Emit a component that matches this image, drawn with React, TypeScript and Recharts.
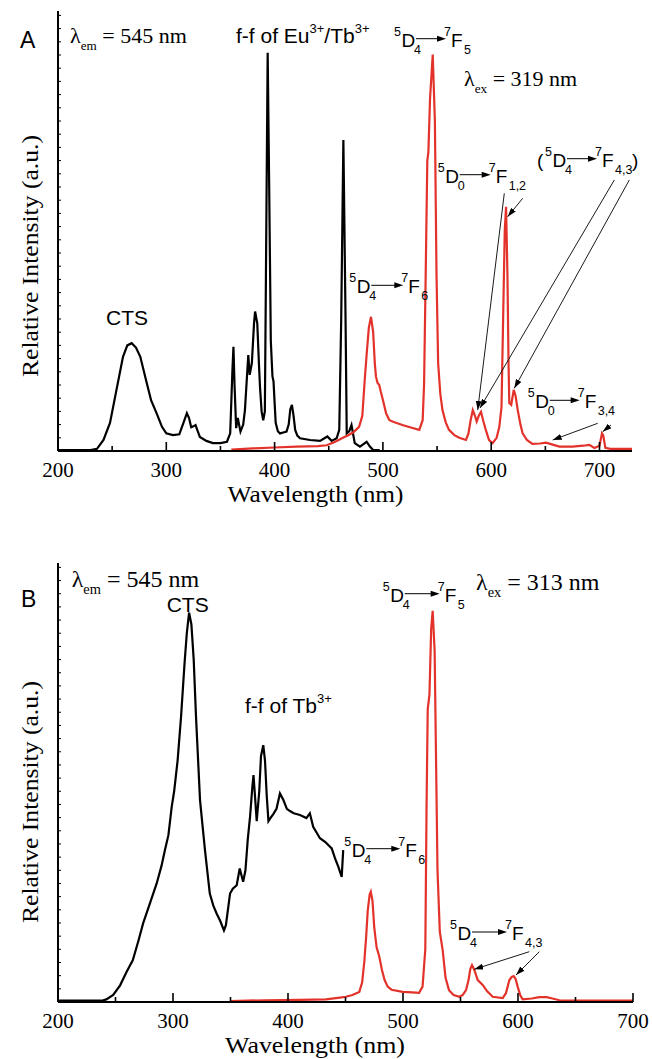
import React from 'react';
import { LineChart, Line, XAxis, YAxis } from 'recharts';

// [wavelength nm, relative intensity]
const excitationA: [number, number][] = [
  [200, 0.2], [230, 0.2], [236, 0.5], [242, 2.5], [248, 6.4], [254, 13.9], [260, 21.4], [264, 24], [268, 24.5],
  [272, 23.5], [276, 21.4], [282, 15.4], [286, 11.5], [291, 8.6], [296, 5.5], [300, 4], [306, 3.6], [312, 3.8],
  [316, 6.5], [319, 8.6], [321, 7.5], [323, 5.4], [325, 5.6], [327, 5.9], [329, 4.5], [331, 3.2], [337, 2.3],
  [343, 1.8], [350, 1.8], [356, 2.1], [359, 4], [361, 18], [362, 23.7], [363, 15], [364.5, 5.2], [366, 7.5],
  [368.5, 4.4], [371, 6], [372.6, 9.3], [374.5, 17], [375.7, 21.8], [377, 17.3], [379, 20], [381, 29], [382, 31.7],
  [384, 29], [385.5, 20], [386.5, 14.6], [388, 9], [389.5, 7], [391, 9], [392, 40], [393.6, 90.5], [395, 60],
  [396.5, 25], [398, 17], [399, 15.8], [400, 11], [401, 6.4], [403, 4.5], [405, 4], [408, 4.2], [411, 4.4],
  [413, 6], [414.5, 9.5], [416, 10.5], [417.5, 8], [419, 4.8], [421, 3.5], [423.5, 2.9], [432.7, 2.5], [442, 2.3],
  [448.7, 3.3], [452.7, 2.3], [457.3, 2.9], [459.7, 4.8], [461.5, 30], [463.5, 70.7], [465.5, 30], [466.6, 4],
  [469, 4.5], [471, 5.9], [474, 1.8], [478.8, 1], [485, 2.1], [488, 1], [491, 0.2], [497, 0.2],
];

const emissionA: [number, number][] = [
  [360, 0.3], [380, 0.6], [400, 0.8], [420, 1], [440, 1.1], [448, 1.3], [455, 2], [460, 2.6], [463, 3], [468, 3.6],
  [473, 4.3], [478, 5.5], [481, 8], [483, 15.4], [485, 22], [487, 28], [489, 30.5], [491, 27], [492.5, 20],
  [493.6, 16.9], [495, 15.5], [496.6, 15], [498, 13.5], [500, 11.6], [503, 8.5], [506, 7], [510, 6.6], [518, 5.9],
  [525, 5.4], [533.6, 4.8], [536.7, 7], [538, 15], [539.5, 40], [541, 66], [542, 68], [543.5, 80], [546, 90.1],
  [548, 75], [549.5, 40], [551, 20], [553, 13], [555, 9.3], [558, 6.5], [561, 4.8], [566, 3.6], [570.5, 3],
  [576.7, 2.5], [579, 4], [581, 7], [583, 9.3], [585, 8], [586.6, 6.7], [588.5, 8], [590.6, 8.9], [592.5, 7],
  [595, 4.8], [598, 2.5], [601.3, 1.8], [605, 3], [607.5, 5.5], [609.5, 10], [611, 30], [612.5, 50], [613.7, 55.5],
  [615, 40], [616, 20], [616.7, 10.9], [618.5, 10.5], [620.8, 13.9], [622.5, 12.5], [624.5, 9.3], [627, 6],
  [629, 4], [633, 2.5], [638, 1.6], [645, 1.7], [650.6, 1.9], [656, 1.5], [663, 1], [675, 1], [685, 1.2],
  [690.6, 1.4], [695.3, 0.7], [700, 1.2], [702.3, 4], [703.5, 3.5], [705.4, 0.7], [710, 0.5], [730, 0.5],
];

const excitationB: [number, number][] = [
  [200, 0.3], [238, 0.3], [242, 0.6], [248, 1.6], [254, 3.8], [259.7, 6.9], [265, 9.5], [270, 14], [274, 17.9],
  [280, 22.5], [285.8, 27], [290, 31], [293, 34.6], [296, 38], [298.9, 44.5], [301, 48], [304, 55], [307, 65],
  [310, 77], [312, 84], [314, 88.7], [316, 86], [318, 78], [320, 65], [323.5, 46], [325, 42], [327.8, 34.6],
  [332, 24.7], [335, 22], [338, 20.1], [341, 18.5], [344.3, 16.3], [346, 17.5], [349.6, 24.7], [352, 25.8],
  [355.4, 26.6], [358, 30.4], [361, 27.4], [363, 30], [365, 37], [367, 42.2], [369, 49], [370, 51.7], [371, 48],
  [372.8, 41.2], [375, 48], [376.5, 56], [378.5, 58.5], [380, 55], [381.5, 47], [383, 41.2], [385, 42],
  [387.2, 42.8], [390, 44], [393, 47.5], [396, 46], [399, 44], [401.7, 43.5], [405, 43], [410.4, 42.6],
  [416, 41.9], [419, 43], [421.9, 39.9], [427.8, 37.3], [432.2, 36.5], [438, 35], [440.9, 32.7], [443.8, 30.8],
  [446.7, 28.5], [448, 34.6],
];

const emissionB: [number, number][] = [
  [350, 0.2], [380, 0.4], [410, 0.5], [433, 0.6], [445, 1], [450.4, 1.2], [456, 1.6], [462, 2.3], [464.5, 4.5],
  [466.4, 9.3], [468, 15], [469.3, 20.7], [471, 24.5], [472, 25.1], [473.5, 23], [475, 17], [477, 12.5],
  [479.4, 10.3], [481.7, 7.3], [484, 5], [486.7, 3.5], [490, 2.8], [499.7, 2.3], [508, 2.2], [514, 2.1], [517, 3.5],
  [519.4, 12], [520.5, 45], [521.5, 66.7], [523, 70], [524.5, 85], [525.8, 89.1], [527.5, 80], [529, 50], [530, 30],
  [532, 16], [534.5, 11.8], [537, 5.5], [540, 2.7], [544, 1.6], [549, 1.2], [552, 1.6], [554.8, 2.7], [557, 5],
  [558.5, 7.5], [560, 8.4], [562, 7.3], [565, 5], [569.3, 3.9], [573, 2.5], [578, 1.2], [586.7, 0.9], [589.5, 2],
  [592.5, 5], [594.5, 5.7], [596.3, 5.9], [598, 5.2], [599.7, 3.5], [602, 1.5], [604, 0.6], [612, 0.8],
  [618.5, 1.1], [625, 1.1], [630, 0.8], [636, 0.4], [650, 0.3], [700, 0.3],
];

const xTicksA = [200, 250, 300, 350, 400, 450, 500, 550, 600, 650, 700];
const xTicksB = [200, 250, 300, 350, 400, 450, 500, 550, 600, 650, 700];
const yTicks = Array.from({ length: 34 }, (_, i) => i * 3);

const SERIF = "'Liberation Serif', 'Times New Roman', serif";
const SANS = "'Liberation Sans', Arial, sans-serif";
const RED = '#E3322A';

const pts = (arr: [number, number][]) => arr.map(([x, y]) => ({ x, y }));

const renderXTick = (props: any) => {
  const { x, y, payload } = props;
  const v = payload.value;
  const major = v % 100 === 0;
  return (
    <g key={`xt-${v}`}>
      <line x1={x} x2={x} y1={y} y2={y - (major ? 9 : 5)} stroke="#000" strokeWidth={1.6} />
      {major && (
        <text x={x} y={y + 26} textAnchor="middle" style={{ fontFamily: SERIF, fontSize: 21 }} fill="#000">
          {v}
        </text>
      )}
    </g>
  );
};

const renderYTick = (props: any) => {
  const { x, y, payload } = props;
  return <line key={`yt-${payload.value}`} x1={x} x2={x + 3} y1={y} y2={y} stroke="#000" strokeWidth={1} />;
};

interface PanelProps {
  ex: [number, number][];
  em: [number, number][];
  xMax: number;
  xTicks: number[];
  top: number;
  height: number;
  margin: { top: number; right: number; bottom: number; left: number };
}

const Panel = ({ ex, em, xMax, xTicks, top, height, margin }: PanelProps) => (
  <div style={{ position: 'absolute', left: 0, top, width: 652, height }}>
    <LineChart width={652} height={height} margin={margin}>
      <XAxis
        type="number"
        dataKey="x"
        domain={[200, xMax]}
        ticks={xTicks}
        interval={0}
        allowDataOverflow
        height={30}
        tickSize={0}
        tickMargin={0}
        tickLine={false}
        tick={renderXTick}
        axisLine={{ stroke: '#000', strokeWidth: 2 }}
      />
      <YAxis
        type="number"
        domain={[0, 100]}
        ticks={yTicks}
        interval={0}
        allowDataOverflow
        width={10}
        tickSize={0}
        tickMargin={0}
        tickLine={false}
        tick={renderYTick}
        axisLine={{ stroke: '#000', strokeWidth: 2 }}
      />
      <Line data={pts(ex)} dataKey="y" type="linear" stroke="#000" strokeWidth={2.2} dot={false} isAnimationActive={false} />
      <Line data={pts(em)} dataKey="y" type="linear" stroke={RED} strokeWidth={2.2} dot={false} isAnimationActive={false} />
    </LineChart>
  </div>
);

// spectroscopic term label like 5D4 -> 7F5
const Term = ({ x, y, pre, a, aSub, post, b, bSub, arrow = 30 }: any) => {
  const ax0 = x + 22;
  const ax1 = ax0 + arrow;
  return (
    <g style={{ fontFamily: SANS }} fill="#000">
      <text x={x} y={y - 11} fontSize={12.5}>{pre}</text>
      <text x={x + 7.5} y={y} fontSize={19}>{a}</text>
      <text x={x + 20} y={y + 7} fontSize={12.5}>{aSub}</text>
      <line x1={ax0} y1={y - 8} x2={ax1 - 6} y2={y - 8} stroke="#000" strokeWidth={1} />
      <polygon points={`${ax1},${y - 8} ${ax1 - 9},${y - 11} ${ax1 - 9},${y - 5}`} fill="#000" />
      <text x={ax1 - 2} y={y - 11} fontSize={12.5}>{post}</text>
      <text x={ax1 + 5} y={y} fontSize={19}>{b}</text>
      <text x={ax1 + 18} y={y + 7} fontSize={12.5}>{bSub}</text>
    </g>
  );
};

const Arrow = ({ x1, y1, x2, y2 }: any) => (
  <line x1={x1} y1={y1} x2={x2} y2={y2} stroke="#000" strokeWidth={0.9} markerEnd="url(#head)" />
);

const Lambda = ({ x, y, sub, rest, size = 22 }: any) => (
  <text x={x} y={y} style={{ fontFamily: SERIF, fontSize: size }} fill="#000">
    λ<tspan style={{ fontSize: size * 0.6 }} dy={7}>{sub}</tspan>
    <tspan dy={-7}>{rest}</tspan>
  </text>
);

const Sup = ({ children }: any) => (
  <tspan fontSize={13} dy={-10}>{children}</tspan>
);

export default function App() {
  return (
    <div style={{ position: 'absolute', left: 0, top: 0, width: 652, height: 1059, background: '#fff' }}>
      <Panel ex={excitationA} em={emissionA} xMax={730} xTicks={xTicksA} top={0} height={530}
        margin={{ top: 11, right: 20, bottom: 49, left: 48 }} />
      <Panel ex={excitationB} em={emissionB} xMax={700} xTicks={xTicksB} top={530} height={529}
        margin={{ top: 33, right: 19, bottom: 27, left: 48 }} />
      <svg width={652} height={1059} style={{ position: 'absolute', left: 0, top: 0, pointerEvents: 'none' }}>
        <defs>
          <marker id="head" markerWidth={9} markerHeight={6} refX={9} refY={3} orient="auto" markerUnits="userSpaceOnUse">
            <path d="M0,0 L9,3 L0,6 Z" fill="#000" />
          </marker>
        </defs>

        {/* panel A */}
        <text x={20} y={48} style={{ fontFamily: SANS, fontSize: 23 }}>A</text>
        <Lambda x={70} y={43} sub="em" rest=" = 545 nm" />
        <Lambda x={464} y={86} sub="ex" rest=" = 319 nm" />
        <text x={236} y={43} style={{ fontFamily: SANS, fontSize: 21 }}>
          f-f of Eu<Sup>3+</Sup><tspan dy={10}>/Tb</tspan><Sup>3+</Sup>
        </text>
        <text x={106} y={325} style={{ fontFamily: SANS, fontSize: 21 }}>CTS</text>
        <Term x={394} y={46.7} pre="5" a="D" aSub="4" post="7" b="F" bSub="5" arrow={30} />
        <Term x={437.7} y={182.7} pre="5" a="D" aSub="0" post="7" b="F" bSub="1,2" arrow={31} />
        <text x={537} y={166.7} style={{ fontFamily: SANS, fontSize: 19 }}>(</text>
        <Term x={545} y={166.7} pre="5" a="D" aSub="4" post="7" b="F" bSub="4,3" arrow={30} />
        <text x={632} y={166.7} style={{ fontFamily: SANS, fontSize: 19 }}>)</text>
        <Term x={349.3} y={293.3} pre="5" a="D" aSub="4" post="7" b="F" bSub="6" arrow={32} />
        <Term x={527.7} y={408.3} pre="5" a="D" aSub="0" post="7" b="F" bSub="3,4" arrow={30} />
        <Arrow x1={504.3} y1={193.3} x2={477.7} y2={410} />
        <Arrow x1={522.7} y1={198.3} x2={507.7} y2={216.7} />
        <Arrow x1={614.3} y1={180} x2={480} y2={408} />
        <Arrow x1={629.3} y1={180} x2={514.3} y2={388.3} />
        <Arrow x1={597.7} y1={423.3} x2={552.7} y2={440} />
        <Arrow x1={611} y1={425} x2={602.7} y2={431.7} />
        <text transform="rotate(-90, 30, 256)" x={30} y={256} textAnchor="middle" dominantBaseline="central"
          style={{ fontFamily: SERIF, fontSize: 24 }} textLength={242} lengthAdjust="spacingAndGlyphs">Relative Intensity (a.u.)</text>
        <text x={315.5} y={502} textAnchor="middle" style={{ fontFamily: SERIF, fontSize: 24 }}
          textLength={176} lengthAdjust="spacingAndGlyphs">Wavelength (nm)</text>

        {/* panel B */}
        <text x={21} y={606.7} style={{ fontFamily: SANS, fontSize: 23 }}>B</text>
        <Lambda x={71.7} y={586.7} sub="em" rest=" = 545 nm" size={24} />
        <Lambda x={476} y={590} sub="ex" rest=" = 313 nm" size={24} />
        <text x={166.7} y={611.7} style={{ fontFamily: SANS, fontSize: 21 }}>CTS</text>
        <text x={245} y={713.3} style={{ fontFamily: SANS, fontSize: 21 }}>
          f-f of Tb<Sup>3+</Sup>
        </text>
        <Term x={382.7} y={601.7} pre="5" a="D" aSub="4" post="7" b="F" bSub="5" arrow={35} />
        <Term x={344.3} y={856.7} pre="5" a="D" aSub="4" post="7" b="F" bSub="6" arrow={34} />
        <Term x={450} y={940} pre="5" a="D" aSub="4" post="7" b="F" bSub="4,3" arrow={35} />
        <Arrow x1={529.3} y1={951.7} x2={474.3} y2={969.3} />
        <Arrow x1={539.3} y1={951.7} x2={516} y2={975} />
        <text transform="rotate(-90, 30, 802)" x={30} y={802} textAnchor="middle" dominantBaseline="central"
          style={{ fontFamily: SERIF, fontSize: 24 }} textLength={242} lengthAdjust="spacingAndGlyphs">Relative Intensity (a.u.)</text>
        <text x={315} y={1053} textAnchor="middle" style={{ fontFamily: SERIF, fontSize: 23 }}
          textLength={180} lengthAdjust="spacingAndGlyphs">Wavelength (nm)</text>
      </svg>
    </div>
  );
}
